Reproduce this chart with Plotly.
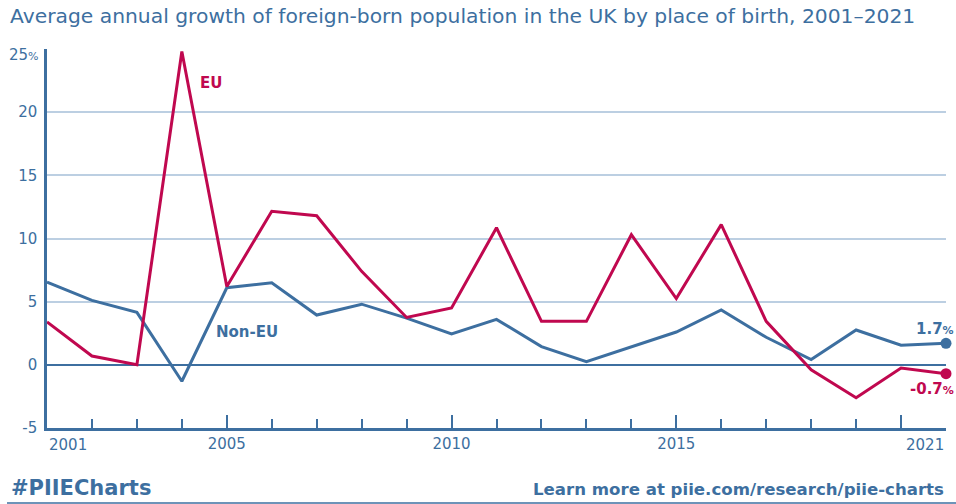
import plotly.graph_objects as go

years = list(range(2001, 2022))
eu = [3.4, 0.7, 0.0, 24.8, 6.2, 12.15, 11.8, 7.4, 3.75, 4.5, 10.85, 3.44, 3.44, 10.3, 5.25, 11.1, 3.44, -0.4, -2.6, -0.25, -0.7]
non_eu = [6.55, 5.1, 4.15, -1.3, 6.1, 6.5, 3.94, 4.8, 3.7, 2.44, 3.6, 1.44, 0.26, 1.4, 2.6, 4.35, 2.18, 0.42, 2.76, 1.55, 1.7]

y_ticks = [-5, 0, 5, 10, 15, 20]
y_ticktext = ["-5", "0", "5", "10", "15", "20"]
x_major = [2005, 2010, 2015, 2020]
x_major_text = ["2005", "2010", "2015", ""]

BLUE = "#3d6fa0"
RED = "#c0084f"
GRID = "#bccfe2"
FONT = "DejaVu Sans"

fig = go.Figure()
fig.add_trace(go.Scatter(
    x=years, y=non_eu, mode="lines", name="Non-EU",
    line=dict(color=BLUE, width=3),
    cliponaxis=False, showlegend=False, hoverinfo="skip"))
fig.add_trace(go.Scatter(
    x=years, y=eu, mode="lines", name="EU",
    line=dict(color=RED, width=3),
    cliponaxis=False, showlegend=False, hoverinfo="skip"))
fig.add_trace(go.Scatter(
    x=[years[-1], years[-1]], y=[non_eu[-1], eu[-1]], mode="markers",
    marker=dict(size=11, color=[BLUE, RED], opacity=1, line=dict(width=0)),
    cliponaxis=False, showlegend=False, hoverinfo="skip"))

fig.update_layout(
    width=956, height=504,
    margin=dict(l=47, r=10, t=49, b=76),
    paper_bgcolor="white", plot_bgcolor="white",
    font=dict(family=FONT, color=BLUE),
    hovermode=False,
    xaxis=dict(
        range=[2001, 2021], showgrid=False, zeroline=False,
        showline=True, linecolor=BLUE, linewidth=2.5,
        tickmode="array", tickvals=x_major, ticktext=x_major_text,
        ticks="inside", ticklen=13, tickwidth=2, tickcolor=BLUE,
        tickfont=dict(size=15, color=BLUE, family=FONT),
        minor=dict(dtick=1, tick0=2001, ticks="inside", ticklen=9, tickwidth=2, tickcolor=BLUE, showgrid=False),
    ),
    yaxis=dict(
        range=[-5, 25], showgrid=True, gridcolor=GRID, gridwidth=1.5,
        zeroline=True, zerolinecolor=BLUE, zerolinewidth=2,
        showline=True, linecolor=BLUE, linewidth=2.5,
        tickmode="array", tickvals=y_ticks + [25], ticktext=y_ticktext + [""],
        ticks="", ticklabelstandoff=4,
        tickfont=dict(size=15, color=BLUE, family=FONT),
    ),
)

annotations = [
    dict(text="Average annual growth of foreign-born population in the UK by place of birth, 2001–2021",
         xref="paper", yref="paper", x=-39 / 899, y=(428 - 16) / 379, xanchor="left", yanchor="middle",
         showarrow=False, font=dict(size=20.3, color=BLUE, family=FONT)),
    dict(text="25<span style='font-size:11px'>%</span>", xref="paper", yref="y", x=-6 / 899, y=25, yshift=-6,
         xanchor="right", yanchor="middle", showarrow=False, font=dict(size=15, color=BLUE, family=FONT)),
    dict(text="2001", xref="x", yref="paper", x=2001, y=-17 / 379, xanchor="left", yanchor="middle",
         showarrow=False, font=dict(size=15, color=BLUE, family=FONT)),
    dict(text="2021", xref="x", yref="paper", x=2021, y=-17 / 379, xanchor="right", yanchor="middle",
         showarrow=False, font=dict(size=15, color=BLUE, family=FONT)),
    dict(text="<b>EU</b>", xref="x", yref="y", x=2004.65, y=22.3, xanchor="center", yanchor="middle",
         showarrow=False, font=dict(size=15, color=RED, family=FONT)),
    dict(text="<b>Non-EU</b>", xref="x", yref="y", x=2005.45, y=2.6, xanchor="center", yanchor="middle",
         showarrow=False, font=dict(size=15, color=BLUE, family=FONT)),
    dict(text="<b>1.7<span style='font-size:11px'>%</span></b>", xref="x", yref="y", x=2021, y=1.7, yshift=14, xshift=10,
         xanchor="right", yanchor="middle", showarrow=False, font=dict(size=15, color=BLUE, family=FONT)),
    dict(text="<b>-0.7<span style='font-size:11px'>%</span></b>", xref="x", yref="y", x=2021, y=-0.7, yshift=-15, xshift=10,
         xanchor="right", yanchor="middle", showarrow=False, font=dict(size=15, color=RED, family=FONT)),
    dict(text="<b>#PIIECharts</b>", xref="paper", yref="paper", x=-38 / 899, y=(428 - 488) / 379,
         xanchor="left", yanchor="middle", showarrow=False, font=dict(size=21, color=BLUE, family=FONT)),
    dict(text="<b>Learn more at piie.com/research/piie-charts</b>", xref="paper", yref="paper", x=1, y=(428 - 489) / 379,
         xanchor="right", yanchor="middle", showarrow=False, font=dict(size=16.6, color=BLUE, family=FONT)),
]
fig.update_layout(annotations=annotations)

fig.add_shape(type="line", xref="paper", yref="paper",
              x0=-40 / 899, x1=1 + 10 / 899, y0=(428 - 503) / 379, y1=(428 - 503) / 379,
              line=dict(color=BLUE, width=1.5))

fig.write_html("out.html", config={"displayModeBar": False},
               post_script="document.body.style.margin='0';document.body.style.padding='0';")
